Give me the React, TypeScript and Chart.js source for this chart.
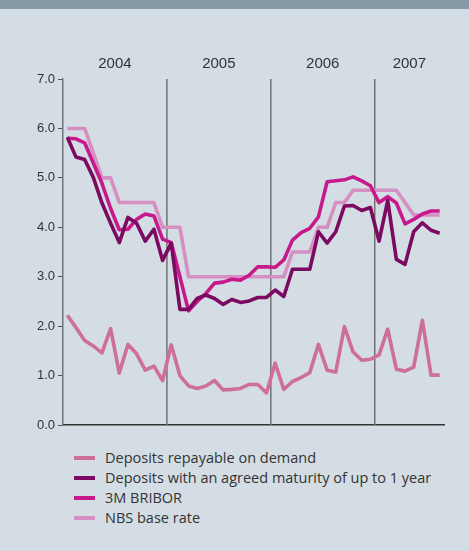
import React, { useEffect, useRef } from 'react';
import { Chart, registerables } from 'chart.js';
Chart.register(...registerables);

const months = [
  'Jan 2004','Feb 2004','Mar 2004','Apr 2004','May 2004','Jun 2004','Jul 2004','Aug 2004','Sep 2004','Oct 2004','Nov 2004','Dec 2004',
  'Jan 2005','Feb 2005','Mar 2005','Apr 2005','May 2005','Jun 2005','Jul 2005','Aug 2005','Sep 2005','Oct 2005','Nov 2005','Dec 2005',
  'Jan 2006','Feb 2006','Mar 2006','Apr 2006','May 2006','Jun 2006','Jul 2006','Aug 2006','Sep 2006','Oct 2006','Nov 2006','Dec 2006',
  'Jan 2007','Feb 2007','Mar 2007','Apr 2007','May 2007','Jun 2007','Jul 2007','Aug 2007',
];

const years = ['2004', '2005', '2006', '2007'];
const yearFirstIndex = [0, 12, 24, 36];
const yearLastIndex = [11, 23, 35, 43];

const yTicks = [0, 1, 2, 3, 4, 5, 6, 7];

const demandDeposits = [
  2.22, 1.97, 1.71, 1.60, 1.46, 1.95, 1.05, 1.63, 1.44, 1.11, 1.19, 0.90,
  1.62, 1.00, 0.79, 0.74, 0.79, 0.90, 0.71, 0.72, 0.74, 0.82, 0.82, 0.65,
  1.25, 0.72, 0.88, 0.96, 1.06, 1.63, 1.11, 1.07, 1.99, 1.48, 1.31, 1.33,
  1.42, 1.94, 1.13, 1.09, 1.17, 2.12, 1.01, 1.01,
];

const agreedDeposits = [
  5.82, 5.42, 5.37, 5.01, 4.49, 4.08, 3.69, 4.20, 4.08, 3.72, 3.96, 3.33,
  3.68, 2.34, 2.34, 2.56, 2.63, 2.56, 2.44, 2.54, 2.48, 2.51, 2.58, 2.58,
  2.73, 2.60, 3.15, 3.15, 3.15, 3.91, 3.68, 3.91, 4.43, 4.44, 4.34, 4.40,
  3.72, 4.54, 3.35, 3.25, 3.91, 4.09, 3.94, 3.88,
];

const bribor3M = [
  5.80, 5.79, 5.71, 5.30, 4.89, 4.38, 3.95, 3.96, 4.16, 4.27, 4.23, 3.76,
  3.69, 3.00, 2.31, 2.50, 2.66, 2.87, 2.89, 2.95, 2.93, 3.03, 3.20, 3.20,
  3.19, 3.34, 3.74, 3.89, 3.98, 4.21, 4.92, 4.94, 4.96, 5.02, 4.94, 4.84,
  4.50, 4.62, 4.49, 4.07, 4.16, 4.27, 4.33, 4.33,
];

const nbsBaseRate = [
  6.0, 6.0, 6.0, 5.5, 5.0, 5.0, 4.5, 4.5, 4.5, 4.5, 4.5, 4.0,
  4.0, 4.0, 3.0, 3.0, 3.0, 3.0, 3.0, 3.0, 3.0, 3.0, 3.0, 3.0,
  3.0, 3.0, 3.5, 3.5, 3.5, 4.0, 4.0, 4.5, 4.5, 4.75, 4.75, 4.75,
  4.75, 4.75, 4.75, 4.5, 4.25, 4.25, 4.25, 4.25,
];

const seriesNames = [
  'Deposits repayable on demand',
  'Deposits with an agreed maturity of up to 1 year',
  '3M BRIBOR',
  'NBS base rate',
];
const seriesColors = ['#cd6f9a', '#7c0962', '#c8198c', '#d58fc2'];

const FONT = '"Liberation Sans", Arial, sans-serif';
const LEGEND_FONT = '"Open Sans", "Liberation Sans", sans-serif';
const TEXT = '#333333';

const yearPlugin = {
  id: 'yearDecor',
  beforeDatasetsDraw(chart: any) {
    const { ctx, chartArea } = chart;
    const x = chart.scales.x;
    const half = (x.getPixelForValue(1) - x.getPixelForValue(0)) / 2;
    ctx.save();
    ctx.strokeStyle = '#727272';
    ctx.lineWidth = 1.5;
    for (let k = 1; k < yearFirstIndex.length; k++) {
      const px = x.getPixelForValue(yearFirstIndex[k]) - half;
      ctx.beginPath();
      ctx.moveTo(px, chartArea.top);
      ctx.lineTo(px, chartArea.bottom);
      ctx.stroke();
    }
    ctx.fillStyle = TEXT;
    ctx.font = `15px ${FONT}`;
    ctx.textAlign = 'center';
    ctx.textBaseline = 'middle';
    for (let k = 0; k < years.length; k++) {
      const l = x.getPixelForValue(yearFirstIndex[k]) - half;
      const r = x.getPixelForValue(yearLastIndex[k]) + half;
      ctx.fillText(years[k], (l + r) / 2, chartArea.top - 15);
    }
    ctx.restore();
  },
};

export default function App() {
  const ref = useRef<HTMLCanvasElement | null>(null);
  useEffect(() => {
    if (!ref.current) return;
    const values = [demandDeposits, agreedDeposits, bribor3M, nbsBaseRate];
    const chart = new Chart(ref.current, {
      type: 'line',
      data: {
        labels: months,
        datasets: values.map((v, i) => ({
          label: seriesNames[i],
          data: v,
          borderColor: seriesColors[i],
          backgroundColor: seriesColors[i],
          borderWidth: 3.6,
          pointRadius: 0,
          tension: 0,
          borderJoinStyle: 'round' as const,
          borderCapStyle: 'butt' as const,
        })),
      },
      options: {
        responsive: false,
        animation: false,
        layout: { padding: { top: 79, right: 25, bottom: 15, left: 0 } },
        plugins: { legend: { display: false }, tooltip: { enabled: false } },
        scales: {
          x: {
            type: 'category',
            offset: true,
            grid: { display: false, drawTicks: false },
            border: { display: true, color: '#333333', width: 1.5 },
            ticks: { display: false, autoSkip: false },
            afterFit(s: any) { s.height = 0; },
          },
          y: {
            min: 0,
            max: 7,
            afterBuildTicks(s: any) { s.ticks = yTicks.map((v) => ({ value: v })); },
            grid: { drawOnChartArea: false, drawTicks: true, tickLength: 5, color: '#555555', lineWidth: 1 },
            border: { display: true, color: '#727272', width: 1.5 },
            ticks: {
              color: TEXT,
              font: { family: FONT, size: 13 },
              padding: 3,
              callback: (v: any) => Number(v).toFixed(1),
            },
            afterFit(s: any) { s.width = 63; },
          },
        },
      },
      plugins: [yearPlugin],
    });
    return () => chart.destroy();
  }, []);

  return (
    <div style={{ position: 'absolute', left: 0, top: 0, width: 469, height: 551, background: '#d3dde3', overflow: 'hidden', fontFamily: LEGEND_FONT }}>
      <div style={{ position: 'absolute', left: 0, top: 0, width: 469, height: 9, background: '#8599a6' }} />
      <canvas ref={ref} width={469} height={440} style={{ position: 'absolute', left: 0, top: 0 }} />
      <div style={{ position: 'absolute', left: 74, top: 448 }}>
        {seriesNames.map((n, i) => (
          <div key={n} style={{ display: 'flex', alignItems: 'center', height: 20 }}>
            <div style={{ width: 21, height: 4, background: seriesColors[i], marginRight: 10 }} />
            <span style={{ fontSize: 14.5, lineHeight: '20px', color: TEXT, whiteSpace: 'nowrap' }}>{n}</span>
          </div>
        ))}
      </div>
    </div>
  );
}
